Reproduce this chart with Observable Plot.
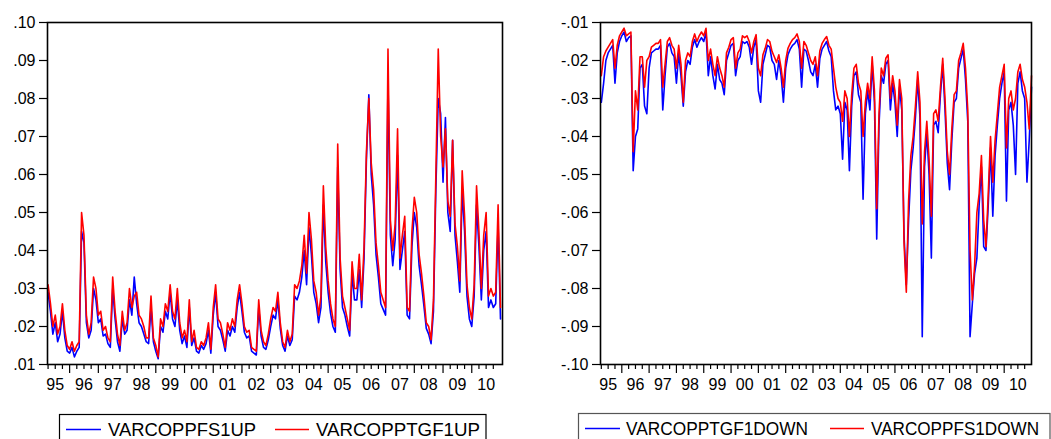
<!DOCTYPE html>
<html><head><meta charset="utf-8">
<script src="https://cdn.jsdelivr.net/npm/d3@7"></script>
<script src="https://cdn.jsdelivr.net/npm/@observablehq/plot@0.6"></script>
<style>
html,body{margin:0;padding:0;background:#fff;}
#wrap{position:relative;width:1051px;height:439px;overflow:hidden;font-family:Arial,"Liberation Sans",sans-serif;}
#left,#right{position:absolute;top:0;}
#left{left:0;} #right{left:525px;}
#legend{position:absolute;left:0;top:0;pointer-events:none;}
</style></head><body>
<div id="wrap"><div id="left"></div><div id="right"></div><svg id="legend" width="1051" height="439"></svg></div>
<script>
// monthly observations starting 1995.25 (step 1/12 year)
const startYear = 1995.25, step = 1 / 12;

// Left panel: VARCOPPFS1UP (blue), VARCOPPTGF1UP (red)
const upBlue = [
  .029,.024,.018,.021,.016,.018,.024,.017,.0135,
  .013,.0145,.012,.0135,.0145,.045,.042,.021,.017,.019,.030,.027,
  .021,.022,.0175,.018,.0155,.0145,.030,.022,.016,.0135,.022,.018,
  .019,.027,.023,.033,.026,.021,.020,.018,.016,.0155,.025,.016,
  .0135,.0115,.020,.0185,.024,.022,.029,.022,.020,.027,.019,.0155,
  .0175,.0145,.025,.015,.017,.0135,.013,.015,.014,.0155,.019,.013,
  .023,.029,.020,.019,.0165,.0135,.019,.0175,.020,.0185,.025,.029,
  .024,.0185,.017,.0175,.0135,.013,.0125,.025,.0175,.0145,.014,.0165,
  .020,.023,.022,.027,.0195,.015,.0135,.0175,.015,.0165,.028,.027,
  .029,.033,.040,.031,.046,.039,.029,.026,.021,.025,.052,.037,
  .029,.0235,.020,.0185,.062,.035,.025,.023,.020,.0175,.034,.027,
  .027,.035,.025,.038,.064,.081,.060,.052,.039,.033,.026,.0245,
  .023,.085,.044,.036,.043,.065,.035,.040,.045,.023,.022,.041,
  .050,.046,.036,.031,.0255,.0195,.018,.0155,.024,.056,.080,.076,
  .058,.075,.050,.045,.069,.044,.037,.029,.056,.045,.028,.022,
  .020,.028,.052,.041,.027,.040,.045,.025,.027,.025,.026,.047,
  .022
];
const upRed = [
  .031,.026,.020,.023,.018,.020,.026,.019,.015,
  .014,.016,.0135,.015,.016,.050,.044,.023,.018,.021,.033,.030,
  .023,.024,.019,.020,.017,.016,.033,.024,.018,.015,.024,.019,
  .021,.030,.025,.028,.029,.023,.022,.020,.017,.017,.028,.017,
  .015,.012,.022,.020,.026,.024,.031,.024,.022,.030,.021,.017,
  .019,.016,.027,.016,.019,.0145,.014,.016,.015,.017,.021,.014,
  .025,.031,.022,.021,.018,.0145,.021,.019,.022,.020,.027,.031,
  .026,.020,.0185,.019,.0145,.014,.0135,.027,.019,.016,.015,.018,
  .022,.025,.024,.029,.021,.016,.0145,.019,.016,.018,.031,.030,
  .032,.036,.044,.034,.050,.043,.032,.029,.023,.028,.057,.041,
  .032,.026,.022,.020,.068,.038,.028,.025,.022,.019,.037,.030,
  .030,.039,.027,.041,.066,.080,.063,.056,.042,.036,.029,.027,
  .025,.093,.048,.040,.047,.072,.038,.044,.049,.025,.024,.045,
  .054,.050,.039,.034,.028,.021,.020,.0165,.027,.060,.093,.070,
  .062,.072,.053,.049,.069,.047,.041,.032,.061,.049,.031,.025,
  .022,.031,.057,.045,.030,.044,.050,.028,.030,.028,.029,.052,
  .025
];

// Right panel: VARCOPPTGF1DOWN (blue), VARCOPPFS1DOWN (red)
const downBlue = [
  -.031,-.026,-.020,-.018,-.017,-.016,-.026,-.018,-.015,
  -.0135,-.0125,-.015,-.014,-.0135,-.049,-.040,-.038,-.022,-.021,-.032,-.034,
  -.022,-.018,-.0175,-.017,-.017,-.016,-.033,-.024,-.0165,-.0155,-.018,-.019,
  -.026,-.018,-.024,-.032,-.023,-.020,-.021,-.0165,-.0145,-.0165,-.015,-.014,
  -.015,-.0125,-.024,-.019,-.024,-.0275,-.021,-.025,-.026,-.029,-.020,-.018,
  -.016,-.0155,-.024,-.020,-.019,-.015,-.0155,-.015,-.0165,-.021,-.0165,-.0145,
  -.028,-.031,-.021,-.0185,-.016,-.0165,-.020,-.021,-.025,-.020,-.024,-.031,
  -.022,-.0185,-.017,-.016,-.0155,-.0145,-.017,-.027,-.017,-.0175,-.020,-.023,
  -.024,-.021,-.027,-.0195,-.017,-.016,-.015,-.0175,-.019,-.028,-.033,-.032,
  -.034,-.046,-.031,-.033,-.049,-.032,-.024,-.023,-.029,-.031,-.0565,-.034,
  -.028,-.033,-.021,-.031,-.067,-.037,-.024,-.026,-.021,-.020,-.033,-.026,
  -.031,-.040,-.027,-.033,-.066,-.079,-.062,-.049,-.043,-.035,-.025,-.035,
  -.0927,-.048,-.039,-.050,-.072,-.037,-.036,-.039,-.029,-.021,-.033,-.047,
  -.054,-.041,-.031,-.030,-.022,-.0195,-.017,-.025,-.036,-.0927,-.084,-.076,
  -.072,-.058,-.048,-.069,-.070,-.058,-.043,-.061,-.045,-.037,-.030,-.026,
  -.023,-.057,-.033,-.031,-.037,-.050,-.026,-.023,-.028,-.030,-.052,-.041,
  -.027
];
const downRed = [
  -.024,-.019,-.0175,-.0165,-.0155,-.0145,-.022,-.016,-.0135,
  -.0125,-.0115,-.0135,-.013,-.0125,-.044,-.028,-.033,-.019,-.019,-.027,-.020,
  -.019,-.0165,-.016,-.0155,-.0155,-.0145,-.027,-.021,-.015,-.014,-.016,-.017,
  -.022,-.016,-.021,-.031,-.020,-.018,-.019,-.015,-.013,-.015,-.0135,-.0125,
  -.0135,-.0115,-.020,-.017,-.021,-.024,-.019,-.022,-.024,-.027,-.018,-.0165,
  -.0145,-.014,-.022,-.018,-.017,-.0135,-.014,-.0135,-.015,-.018,-.015,-.0132,
  -.022,-.024,-.0185,-.0168,-.0145,-.015,-.0176,-.019,-.0205,-.0185,-.022,-.027,
  -.020,-.0168,-.0155,-.0145,-.014,-.013,-.015,-.022,-.015,-.016,-.018,-.020,
  -.021,-.019,-.024,-.0175,-.0155,-.0145,-.0137,-.016,-.017,-.022,-.027,-.030,
  -.031,-.036,-.028,-.030,-.040,-.029,-.022,-.021,-.026,-.028,-.040,-.031,
  -.026,-.030,-.019,-.028,-.059,-.034,-.022,-.024,-.0194,-.0185,-.030,-.024,
  -.028,-.037,-.025,-.030,-.068,-.081,-.057,-.045,-.040,-.032,-.023,-.031,
  -.063,-.044,-.036,-.046,-.061,-.034,-.033,-.036,-.027,-.0194,-.030,-.044,
  -.050,-.038,-.029,-.028,-.020,-.018,-.0155,-.022,-.033,-.070,-.083,-.074,
  -.060,-.055,-.045,-.062,-.069,-.055,-.040,-.052,-.041,-.034,-.027,-.024,
  -.021,-.043,-.030,-.028,-.033,-.030,-.023,-.021,-.025,-.027,-.031,-.038,
  -.024
];

const yTicksUp = [.01,.02,.03,.04,.05,.06,.07,.08,.09,.10];
const yTicksDown = [-.10,-.09,-.08,-.07,-.06,-.05,-.04,-.03,-.02,-.01];
const yearLabels = ["95","96","97","98","99","00","01","02","03","04","05","06","07","08","09","10"];
const legendUp = ["VARCOPPFS1UP", "VARCOPPTGF1UP"];
const legendDown = ["VARCOPPTGF1DOWN", "VARCOPPFS1DOWN"];
const BLUE = "#0000ff", RED = "#ff0000";

const fmtY = d => d.toFixed(2).replace("0.", ".");

function panel({blue, red, width, ml, mr, xDomain, yDomain, yTicks}) {
  const rowsB = blue.map((v, i) => ({t: startYear + i * step, v}));
  const rowsR = red.map((v, i) => ({t: startYear + i * step, v}));
  const majors = d3.range(1996, 2011);
  const minors = d3.range(1995, 2011).flatMap(y => [y + .25, y + .5, y + .75])
    .filter(t => t > xDomain[0] + 0.01 && t < xDomain[1] - 0.01);
  const mids = yearLabels.map((_, i) => 1995.5 + i);
  return Plot.plot({
    width, height: 405,
    marginLeft: ml, marginRight: mr, marginTop: 22, marginBottom: 41,
    x: {domain: xDomain, axis: null},
    y: {domain: yDomain, axis: null},
    style: {fontFamily: 'Arial, "Liberation Sans", sans-serif', fontSize: "16px", color: "#000", background: "#fff", overflow: "visible"},
    marks: [
      Plot.line(rowsB, {x: "t", y: "v", stroke: BLUE, strokeWidth: 1.6, strokeLinejoin: "round"}),
      Plot.line(rowsR, {x: "t", y: "v", stroke: RED, strokeWidth: 1.6, strokeLinejoin: "round"}),
      Plot.frame({stroke: "#000", strokeWidth: 1.6}),
      Plot.axisY(yTicks, {anchor: "left", tickSize: 8, tickPadding: 4, tickFormat: fmtY, fontSize: 16, label: null, strokeWidth: 1.2}),
      Plot.axisX(majors, {anchor: "bottom", tickSize: 9, tickFormat: () => "", label: null, strokeWidth: 1.2}),
      Plot.axisX(minors, {anchor: "bottom", tickSize: 5, tickFormat: () => "", label: null, strokeWidth: 1.2}),
      Plot.axisX(mids, {anchor: "bottom", tickSize: 0, tickPadding: 14, tickFormat: d => yearLabels[Math.round(d - 1995.5)], fontSize: 16, label: null})
    ]
  });
}

document.getElementById("left").append(panel({
  blue: upBlue, red: upRed, width: 525, ml: 47, mr: 23,
  xDomain: [1995.23, 2011.07], yDomain: [.01, .10], yTicks: yTicksUp
}));
document.getElementById("right").append(panel({
  blue: downBlue, red: downRed, width: 526, ml: 75, mr: 20,
  xDomain: [1995.22, 2011.0], yDomain: [-.10, -.01], yTicks: yTicksDown
}));

// legends
const lg = d3.select("#legend");
function legend(x0, x1, top, items, stroke) {
  lg.append("rect").attr("x", x0).attr("y", top).attr("width", x1 - x0).attr("height", 60)
    .attr("fill", "none").attr("stroke", stroke).attr("stroke-width", 1.2);
  items.forEach(it => {
    lg.append("line").attr("x1", it.l0).attr("x2", it.l1).attr("y1", top + 15).attr("y2", top + 15)
      .attr("stroke", it.color).attr("stroke-width", 1.3);
    lg.append("text").attr("x", it.tx).attr("y", top + 21.5).text(it.label)
      .attr("font-family", 'Arial, "Liberation Sans", sans-serif').attr("font-size", 18)
      .attr("textLength", it.tw).attr("lengthAdjust", "spacingAndGlyphs").attr("fill", "#000");
  });
}
legend(59.5, 486, 414.5, [
  {l0: 66, l1: 101, color: BLUE, tx: 108, tw: 148, label: legendUp[0]},
  {l0: 275, l1: 309, color: RED, tx: 316, tw: 164, label: legendUp[1]}
], "#000");
legend(578.5, 1050, 413.5, [
  {l0: 585, l1: 620, color: BLUE, tx: 626, tw: 182, label: legendDown[0]},
  {l0: 830, l1: 864, color: RED, tx: 871, tw: 168, label: legendDown[1]}
], "#555");
</script>
</body></html>
